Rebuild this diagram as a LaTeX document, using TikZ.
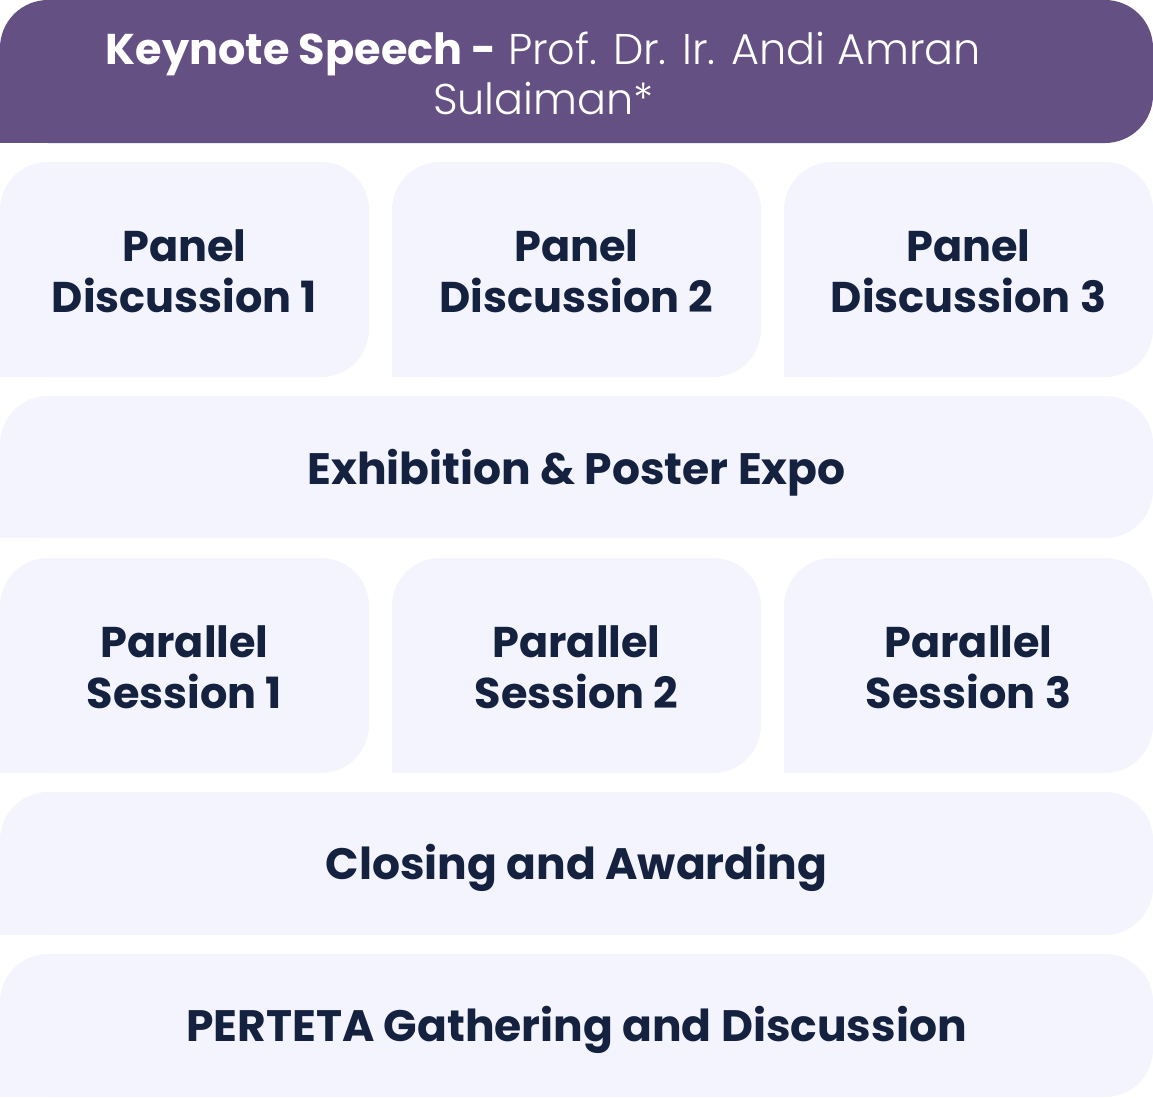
\documentclass[tikz,border=0pt]{standalone}
\usepackage{fontspec}
\setmainfont{Poppins}
\newfontfamily\lightfont{Poppins Light}
\definecolor{purp}{HTML}{645083}
\definecolor{pale}{HTML}{F4F4FE}
\definecolor{navy}{HTML}{14223F}
\newcommand\tile[5]{%
  \fill[#1,rounded corners=48pt] (#2,#3) rectangle (#4,#5);
  \fill[#1] (#2,{#5-60}) rectangle ({#2+60},#5);}
\tikzset{
  lbl/.style={text=navy, font=\fontsize{43}{51}\selectfont\bfseries, align=center, inner sep=0pt},
  wlbl/.style={text=navy, font=\fontsize{44}{51}\selectfont\bfseries, align=center, inner sep=0pt},
  klbl/.style={text=white, font=\fontsize{43}{50}\selectfont, align=center, inner sep=0pt}
}
\begin{document}
\begin{tikzpicture}[x=1pt,y=-1pt]
\useasboundingbox (0,0) rectangle (1153,1097);
\fill[white] (0,0) rectangle (1153,1097);
\tile{purp}{0}{0}{1153}{143}
\tile{pale}{0}{162}{369}{377}
\tile{pale}{392}{162}{761}{377}
\tile{pale}{784}{162}{1153}{377}
\tile{pale}{0}{396}{1153}{538}
\tile{pale}{0}{558}{369}{773}
\tile{pale}{392}{558}{761}{773}
\tile{pale}{784}{558}{1153}{773}
\tile{pale}{0}{792}{1153}{935}
\tile{pale}{0}{954}{1153}{1097}
\node[klbl] (key) at (543.5,73) {{\bfseries Keynote Speech -} {\lightfont Prof. Dr. Ir. Andi Amran}\\{\lightfont Sulaiman*}};
\node[lbl] (p1) at (184.5,271) {Panel\\Discussion 1};
\node[lbl] (p2) at (576.5,271) {Panel\\Discussion 2};
\node[lbl] (p3) at (968.5,271) {Panel\\Discussion 3};
\node[wlbl, anchor=base] (ex) at (576.5,484) {Exhibition \& Poster Expo};
\node[lbl] (s1) at (184.5,667) {Parallel\\Session 1};
\node[lbl] (s2) at (576.5,667) {Parallel\\Session 2};
\node[lbl] (s3) at (968.5,667) {Parallel\\Session 3};
\node[wlbl, anchor=base] (cl) at (576.5,879) {Closing and Awarding};
\node[wlbl, anchor=base] (pg) at (576.5,1041) {PERTETA Gathering and Discussion};
\end{tikzpicture}
\end{document}
